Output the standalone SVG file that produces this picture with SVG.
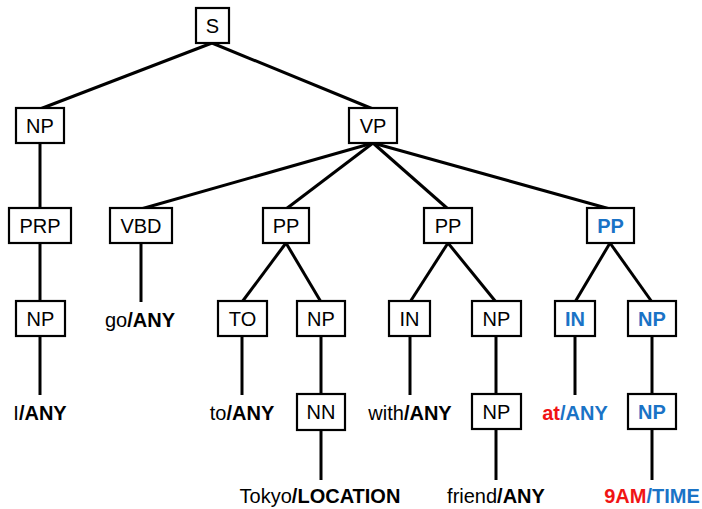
<svg xmlns="http://www.w3.org/2000/svg" width="702" height="509" viewBox="0 0 702 509">
  <style>
    .box { fill: #ffffff; stroke: #000000; stroke-width: 2.2; }
    .edge { stroke: #000000; stroke-width: 3; fill: none; stroke-linecap: butt; }
    text { font-family: "Liberation Sans", Arial, sans-serif; font-size: 20px; text-anchor: middle; fill: #000000; }
    .lbl { dominant-baseline: central; }
    .b { font-weight: bold; }
    .blue { fill: #1a73c6; }
    .red { fill: #f01414; }
  </style>
  <rect width="702" height="509" fill="#ffffff"/>

  <g id="connectors">
    <!-- S -->
    <line class="edge" x1="212" y1="43" x2="40" y2="109"/>
    <line class="edge" x1="212" y1="43" x2="373" y2="109"/>
    <!-- NP branch -->
    <line class="edge" x1="40" y1="143" x2="40" y2="208"/>
    <line class="edge" x1="40" y1="243" x2="40" y2="301"/>
    <line class="edge" x1="40" y1="336" x2="40" y2="395"/>
    <!-- VP -->
    <line class="edge" x1="373" y1="143" x2="141" y2="209"/>
    <line class="edge" x1="373" y1="143" x2="286" y2="209"/>
    <line class="edge" x1="373" y1="143" x2="448" y2="209"/>
    <line class="edge" x1="373" y1="143" x2="610" y2="209"/>
    <line class="edge" x1="141" y1="243" x2="141" y2="302"/>
    <!-- PP to Tokyo -->
    <line class="edge" x1="286" y1="243" x2="242" y2="302"/>
    <line class="edge" x1="286" y1="243" x2="321" y2="302"/>
    <line class="edge" x1="242" y1="336" x2="242" y2="395"/>
    <line class="edge" x1="321" y1="336" x2="321" y2="395"/>
    <line class="edge" x1="321" y1="430" x2="321" y2="480"/>
    <!-- PP with friend -->
    <line class="edge" x1="448" y1="243" x2="410" y2="302"/>
    <line class="edge" x1="448" y1="243" x2="496" y2="302"/>
    <line class="edge" x1="410" y1="336" x2="410" y2="395"/>
    <line class="edge" x1="496" y1="336" x2="496" y2="395"/>
    <line class="edge" x1="496" y1="429" x2="496" y2="480"/>
    <!-- PP at 9AM -->
    <line class="edge" x1="610" y1="243" x2="575" y2="302"/>
    <line class="edge" x1="610" y1="243" x2="652" y2="302"/>
    <line class="edge" x1="575" y1="336" x2="575" y2="395"/>
    <line class="edge" x1="652" y1="336" x2="652" y2="395"/>
    <line class="edge" x1="652" y1="429" x2="652" y2="480"/>
  </g>

  <g id="n-S"><rect class="box" x="196" y="8" width="33" height="35"/><text class="lbl" x="212.5" y="26">S</text></g>
  <g id="n-NP1"><rect class="box" x="16" y="108" width="48" height="35"/><text class="lbl" x="40" y="126">NP</text></g>
  <g id="n-VP"><rect class="box" x="349" y="108" width="48" height="35"/><text class="lbl" x="373" y="126">VP</text></g>

  <g id="n-PRP"><rect class="box" x="9" y="208" width="62" height="35"/><text class="lbl" x="40" y="226">PRP</text></g>
  <g id="n-VBD"><rect class="box" x="110" y="208" width="62" height="35"/><text class="lbl" x="141" y="226">VBD</text></g>
  <g id="n-PP1"><rect class="box" x="263" y="208" width="46" height="35"/><text class="lbl" x="286" y="226">PP</text></g>
  <g id="n-PP2"><rect class="box" x="424" y="208" width="48" height="35"/><text class="lbl" x="448" y="226">PP</text></g>
  <g id="n-PP3"><rect class="box" x="587" y="208" width="47" height="35"/><text class="lbl b blue" x="610.5" y="226">PP</text></g>

  <g id="n-NP2"><rect class="box" x="16" y="301" width="49" height="35"/><text class="lbl" x="40.5" y="319">NP</text></g>
  <g id="n-TO"><rect class="box" x="218" y="301" width="49" height="35"/><text class="lbl" x="242.5" y="319">TO</text></g>
  <g id="n-NP3"><rect class="box" x="297" y="301" width="48" height="35"/><text class="lbl" x="321" y="319">NP</text></g>
  <g id="n-IN1"><rect class="box" x="389" y="301" width="41" height="35"/><text class="lbl" x="409.5" y="319">IN</text></g>
  <g id="n-NP4"><rect class="box" x="472" y="301" width="49" height="35"/><text class="lbl" x="496.5" y="319">NP</text></g>
  <g id="n-IN2"><rect class="box" x="555" y="301" width="40" height="35"/><text class="lbl b blue" x="575" y="319">IN</text></g>
  <g id="n-NP5"><rect class="box" x="628" y="301" width="48" height="35"/><text class="lbl b blue" x="652" y="319">NP</text></g>

  <g id="n-NN"><rect class="box" x="297" y="394" width="48" height="36"/><text class="lbl" x="321" y="412">NN</text></g>
  <g id="n-NP6"><rect class="box" x="472" y="394" width="49" height="35"/><text class="lbl" x="496.5" y="412">NP</text></g>
  <g id="n-NP7"><rect class="box" x="628" y="394" width="48" height="35"/><text class="lbl b blue" x="652" y="412">NP</text></g>

  <g id="leaves">
    <text x="140" y="327">go<tspan class="b">/ANY</tspan></text>
    <text x="40" y="420">I<tspan class="b">/ANY</tspan></text>
    <text x="242" y="420">to<tspan class="b">/ANY</tspan></text>
    <text x="410" y="420">with<tspan class="b">/ANY</tspan></text>
    <text x="575" y="420" class="b"><tspan class="red">at</tspan><tspan class="blue">/ANY</tspan></text>
    <text x="320" y="503">Tokyo<tspan class="b">/LOCATION</tspan></text>
    <text x="496" y="503">friend<tspan class="b">/ANY</tspan></text>
    <text x="652" y="503" class="b"><tspan class="red">9AM</tspan><tspan class="blue">/TIME</tspan></text>
  </g>
</svg>
